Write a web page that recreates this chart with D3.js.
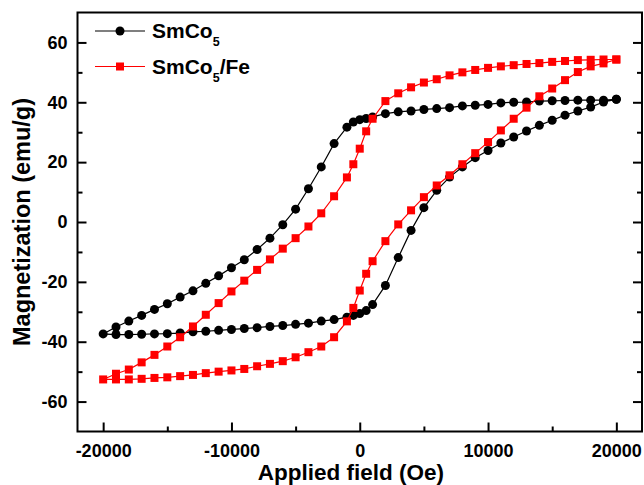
<!DOCTYPE html>
<html>
<head>
<meta charset="utf-8">
<script src="https://cdn.jsdelivr.net/npm/d3@7"></script>
<style>
  body { margin: 0; background: #fff; }
  text { font-family: "Liberation Sans", Arial, sans-serif; }
</style>
</head>
<body>
<svg id="chart"></svg>
<script>
// applied field (Oe), sweep from +20000 down to -20000
var fieldDown = [20000, 19000, 18000, 17000, 16000, 15000, 14000, 13000, 12000, 11000,
  10000, 9000, 8000, 7000, 6000, 5000, 4000, 3000, 2000, 1000, 500, 0, -500, -1000,
  -2000, -3000, -4000, -5000, -6000, -7000, -8000, -9000, -10000, -11000, -12000,
  -13000, -14000, -15000, -16000, -17000, -18000, -19000, -20000];
var fieldUp = fieldDown.slice().reverse();

// SmCo5 magnetization (emu/g)
var smcoDown = [41.0, 40.7, 40.7, 40.7, 40.6, 40.5, 40.4, 40.1, 40.0, 39.8,
  39.3, 39.0, 38.8, 38.2, 37.9, 37.6, 37.1, 36.8, 36.2, 35.1, 34.6, 34.2, 33.4, 31.7,
  26.2, 18.4, 11.1, 4.3, -0.9, -5.4, -9.2, -12.6, -15.3, -18.0, -20.5,
  -23.0, -25.1, -27.3, -29.2, -31.2, -33.1, -35.1, -37.4];
var smcoUp = [-37.4, -37.6, -37.6, -37.5, -37.4, -37.3, -37.1, -36.7, -36.5, -36.2,
  -35.9, -35.6, -35.3, -34.9, -34.6, -34.2, -33.8, -33.1, -32.6, -31.8, -31.2, -30.6, -29.6, -27.6,
  -21.2, -11.9, -2.8, 4.8, 10.6, 15.0, 18.4, 21.5, 23.9, 26.4, 28.4,
  30.4, 32.3, 34.0, 35.7, 37.1, 38.4, 40.1, 41.0];

// SmCo5/Fe magnetization (emu/g)
var feDown = [54.3, 54.3, 54.2, 54.1, 53.8, 53.5, 53.1, 52.8, 52.4, 52.0,
  51.5, 50.8, 50.0, 49.0, 47.7, 46.6, 45.0, 43.0, 40.4, 34.5, 30.3, 24.5, 19.3, 14.9,
  8.6, 2.9, -1.5, -5.4, -8.9, -12.5, -16.0, -19.6, -23.2, -27.1, -31.0,
  -34.9, -38.5, -41.6, -44.4, -46.9, -49.3, -50.7, -52.6];
var feUp = [-52.6, -52.6, -52.6, -52.4, -52.1, -51.9, -51.5, -51.1, -50.5, -50.0,
  -49.6, -49.1, -48.2, -47.4, -46.5, -45.2, -43.5, -41.6, -38.5, -33.2, -28.7, -22.9, -17.3, -13.1,
  -6.4, -0.8, 3.9, 8.3, 12.2, 15.6, 19.3, 23.0, 26.7, 30.6, 34.5,
  38.2, 42.0, 44.6, 47.4, 50.1, 52.0, 53.0, 54.3];

var xTicks = [-20000, -10000, 0, 10000, 20000];
var xMinor = [-15000, -5000, 5000, 15000];
var yTicks = [-60, -40, -20, 0, 20, 40, 60];
var yMinor = [-50, -30, -10, 10, 30, 50];

function loop(down, up) {
  var pts = [];
  for (var i = 0; i < fieldDown.length; i++) pts.push({ h: fieldDown[i], m: down[i] });
  for (var j = 1; j < fieldUp.length; j++) pts.push({ h: fieldUp[j], m: up[j] });
  return pts;
}

var series = [
  { name: "SmCo", color: "#000", shape: "circle", data: loop(smcoDown, smcoUp) },
  { name: "SmCo", color: "#ff0000", shape: "square", data: loop(feDown, feUp), suffix: "/Fe" }
];

var svgWidth = 644, svgHeight = 485;
var padLeft = 77.5, padRight = 642, padTop = 12.5, padBottom = 431.5;

var svg = d3.select("#chart")
  .attr("width", svgWidth)
  .attr("height", svgHeight);

var x = d3.scaleLinear().domain([-22000, 22000]).range([padLeft, padRight]);
var y = d3.scaleLinear().domain([-70, 70]).range([padBottom, padTop]);

function plain(d) { return String(d); }

// ticks (inward)
svg.append("g")
  .attr("transform", "translate(0," + padBottom + ")")
  .call(d3.axisBottom(x).tickValues(xTicks).tickSize(-9).tickFormat(plain))
  .call(function(g) { g.select(".domain").remove(); })
  .call(function(g) {
    g.selectAll("line").attr("stroke-width", 2);
    g.selectAll("text").attr("y", 12.5).attr("font-size", 18).attr("font-weight", "bold")
      .attr("font-family", "Liberation Sans, Arial, sans-serif").attr("fill", "#000");
  });
svg.append("g")
  .attr("transform", "translate(0," + padBottom + ")")
  .call(d3.axisBottom(x).tickValues(xMinor).tickSize(-5).tickFormat(""))
  .call(function(g) { g.select(".domain").remove(); g.selectAll("line").attr("stroke-width", 2); });

svg.append("g")
  .attr("transform", "translate(" + padLeft + ",0)")
  .call(d3.axisLeft(y).tickValues(yTicks).tickSize(-9).tickFormat(plain))
  .call(function(g) { g.select(".domain").remove(); })
  .call(function(g) {
    g.selectAll("line").attr("stroke-width", 2);
    g.selectAll("text").attr("x", -10).attr("font-size", 18).attr("font-weight", "bold")
      .attr("font-family", "Liberation Sans, Arial, sans-serif").attr("fill", "#000");
  });
svg.append("g")
  .attr("transform", "translate(" + padLeft + ",0)")
  .call(d3.axisLeft(y).tickValues(yMinor).tickSize(-5).tickFormat(""))
  .call(function(g) { g.select(".domain").remove(); g.selectAll("line").attr("stroke-width", 2); });

svg.append("g")
  .attr("transform", "translate(" + padRight + ",0)")
  .call(d3.axisRight(y).tickValues(yTicks).tickSize(-9).tickFormat(""))
  .call(function(g) { g.select(".domain").remove(); g.selectAll("line").attr("stroke-width", 2); });
svg.append("g")
  .attr("transform", "translate(" + padRight + ",0)")
  .call(d3.axisRight(y).tickValues(yMinor).tickSize(-5).tickFormat(""))
  .call(function(g) { g.select(".domain").remove(); g.selectAll("line").attr("stroke-width", 2); });

// frame
svg.append("rect")
  .attr("x", padLeft).attr("y", padTop)
  .attr("width", padRight - padLeft).attr("height", padBottom - padTop)
  .attr("fill", "none").attr("stroke", "#000").attr("stroke-width", 2);

var line = d3.line()
  .x(function(d) { return x(d.h); })
  .y(function(d) { return y(d.m); });

function drawMarkers(g, s, pts) {
  if (s.shape == "circle") {
    g.selectAll("circle").data(pts).enter().append("circle")
      .attr("cx", function(d) { return x(d.h); })
      .attr("cy", function(d) { return y(d.m); })
      .attr("r", 4.5)
      .attr("fill", s.color);
  } else {
    g.selectAll("rect").data(pts).enter().append("rect")
      .attr("x", function(d) { return x(d.h) - 4; })
      .attr("y", function(d) { return y(d.m) - 4; })
      .attr("width", 8).attr("height", 8)
      .attr("fill", s.color);
  }
}

series.forEach(function(s) {
  var g = svg.append("g");
  g.append("path")
    .datum(s.data)
    .attr("fill", "none")
    .attr("stroke", s.color)
    .attr("stroke-width", 1.2)
    .attr("d", line);
  drawMarkers(g, s, s.data);
});

// legend
var legend = svg.append("g");
series.forEach(function(s, i) {
  var ly = 31 + i * 35.5;
  var lg = legend.append("g");
  lg.append("line")
    .attr("x1", 95).attr("x2", 145).attr("y1", ly).attr("y2", ly)
    .attr("stroke", s.color).attr("stroke-width", 1.2);
  var marker = lg.append("g").attr("transform", "translate(120," + ly + ")");
  if (s.shape == "circle") marker.append("circle").attr("r", 4.5).attr("fill", s.color);
  else marker.append("rect").attr("x", -4).attr("y", -4).attr("width", 8).attr("height", 8).attr("fill", s.color);
  var t = lg.append("text")
    .attr("x", 152).attr("y", ly + 7.3)
    .attr("font-size", 21)
    .attr("font-weight", "bold")
    .attr("fill", "#000");
  t.append("tspan").text(s.name);
  t.append("tspan").attr("font-size", 12.5).attr("dy", 8).text("5");
  if (s.suffix) t.append("tspan").attr("dy", -8).text(s.suffix);
});

// axis titles
svg.append("text")
  .attr("x", 351).attr("y", 480)
  .attr("text-anchor", "middle")
  .attr("font-size", 22.5).attr("font-weight", "bold")
  .text("Applied field (Oe)");

svg.append("text")
  .attr("transform", "translate(30," + 222 + ") rotate(-90)")
  .attr("text-anchor", "middle")
  .attr("font-size", 23.5).attr("font-weight", "bold")
  .text("Magnetization (emu/g)");
</script>
</body>
</html>
